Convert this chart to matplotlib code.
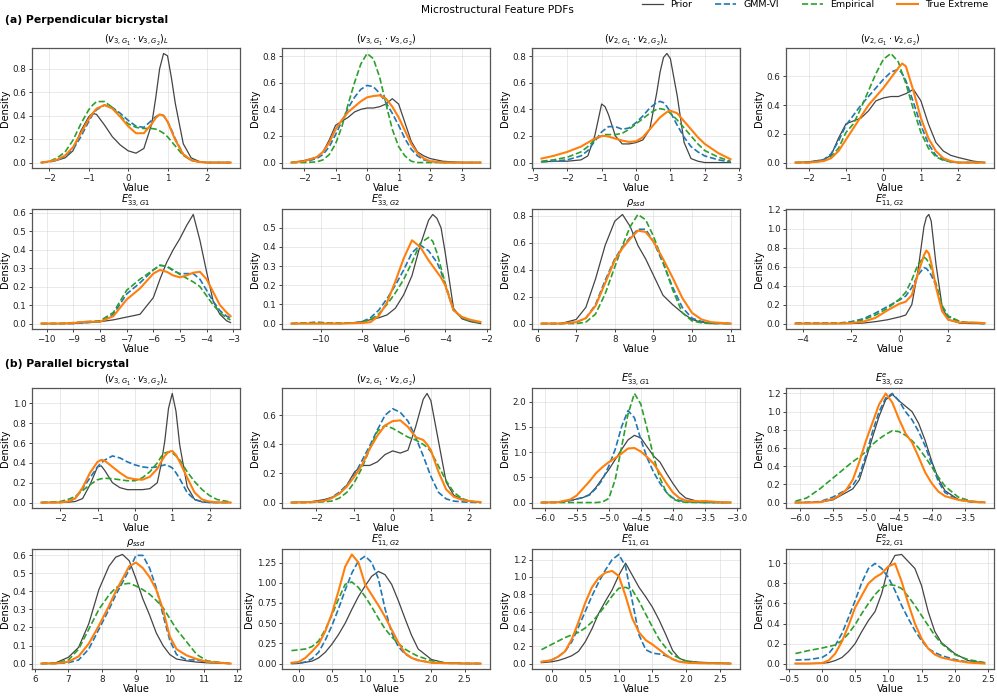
import matplotlib
matplotlib.use("Agg")
import matplotlib.pyplot as plt
from matplotlib.ticker import MultipleLocator
from matplotlib.lines import Line2D

# ---------------- (a) perpendicular bicrystal ----------------
# v3 (L)
pa_v3L_x = [-2.2, -2.0, -1.8, -1.6, -1.4, -1.2, -1.0, -0.9, -0.8, -0.6, -0.4, -0.2, 0.0, 0.2,
            0.4, 0.6, 0.7, 0.8, 0.9, 1.0, 1.1, 1.2, 1.4, 1.6, 1.8, 2.0, 2.2, 2.6]
pa_v3L_prior = [0.00, 0.01, 0.02, 0.04, 0.10, 0.27, 0.39, 0.42, 0.41, 0.32, 0.22, 0.15, 0.10, 0.08,
                0.12, 0.33, 0.55, 0.80, 0.93, 0.91, 0.72, 0.50, 0.16, 0.04, 0.01, 0.0, 0.0, 0.0]
pa_v3L_gmm = [0.0, 0.005, 0.02, 0.05, 0.11, 0.22, 0.35, 0.41, 0.45, 0.49, 0.47, 0.42, 0.36, 0.31,
              0.30, 0.36, 0.39, 0.41, 0.40, 0.35, 0.28, 0.20, 0.07, 0.02, 0.005, 0, 0, 0]
pa_v3L_emp = [0.0, 0.01, 0.04, 0.09, 0.19, 0.33, 0.45, 0.49, 0.52, 0.52, 0.47, 0.40, 0.33, 0.30,
              0.29, 0.29, 0.285, 0.27, 0.25, 0.22, 0.18, 0.14, 0.06, 0.02, 0.005, 0, 0, 0]
pa_v3L_true = [0.0, 0.01, 0.025, 0.06, 0.13, 0.25, 0.37, 0.42, 0.46, 0.49, 0.46, 0.39, 0.31, 0.25,
               0.25, 0.33, 0.38, 0.41, 0.40, 0.35, 0.27, 0.19, 0.07, 0.02, 0.005, 0, 0, 0]

# v3
pa_v3_x = [-2.4, -2.0, -1.6, -1.4, -1.2, -1.0, -0.8, -0.6, -0.4, -0.2, 0.0, 0.2, 0.4, 0.6, 0.8,
           1.0, 1.2, 1.4, 1.6, 1.8, 2.0, 2.4, 3.0, 3.6]
pa_v3_prior = [0.0, 0.015, 0.04, 0.08, 0.17, 0.28, 0.31, 0.34, 0.38, 0.40, 0.41, 0.41, 0.42, 0.44,
               0.48, 0.44, 0.30, 0.16, 0.08, 0.05, 0.03, 0.01, 0.0, 0.0]
pa_v3_gmm = [0, 0.005, 0.03, 0.06, 0.12, 0.21, 0.31, 0.41, 0.49, 0.55, 0.58, 0.57, 0.52, 0.45,
             0.37, 0.28, 0.18, 0.10, 0.05, 0.02, 0.01, 0, 0, 0]
pa_v3_emp = [0, 0, 0.005, 0.02, 0.06, 0.14, 0.27, 0.44, 0.60, 0.74, 0.82, 0.78, 0.64, 0.44,
             0.25, 0.12, 0.05, 0.01, 0, 0, 0, 0, 0, 0]
pa_v3_true = [0, 0.01, 0.04, 0.08, 0.15, 0.25, 0.32, 0.38, 0.42, 0.46, 0.49, 0.50, 0.505, 0.48,
              0.42, 0.34, 0.24, 0.14, 0.07, 0.03, 0.01, 0, 0, 0]

# v2 (L)
pa_v2L_x = [-2.75, -2.4, -2.0, -1.6, -1.4, -1.2, -1.0, -0.9, -0.8, -0.6, -0.4, -0.2, 0.0, 0.2,
            0.4, 0.6, 0.7, 0.8, 0.9, 1.0, 1.2, 1.4, 1.6, 1.8, 2.0, 2.4, 2.75]
pa_v2L_prior = [0.005, 0.01, 0.01, 0.02, 0.05, 0.20, 0.44, 0.42, 0.36, 0.20, 0.14, 0.14, 0.15, 0.17,
                0.25, 0.52, 0.68, 0.79, 0.82, 0.78, 0.50, 0.15, 0.03, 0.01, 0.0, 0, 0]
pa_v2L_gmm = [0.005, 0.01, 0.02, 0.05, 0.09, 0.16, 0.23, 0.25, 0.27, 0.27, 0.25, 0.26, 0.30, 0.35,
              0.41, 0.45, 0.46, 0.45, 0.42, 0.38, 0.28, 0.19, 0.12, 0.08, 0.05, 0.02, 0.005]
pa_v2L_emp = [0.01, 0.02, 0.04, 0.08, 0.12, 0.17, 0.20, 0.21, 0.21, 0.21, 0.22, 0.25, 0.29, 0.33,
              0.37, 0.40, 0.405, 0.40, 0.39, 0.37, 0.32, 0.26, 0.20, 0.14, 0.09, 0.04, 0.01]
pa_v2L_true = [0.03, 0.05, 0.08, 0.12, 0.15, 0.18, 0.20, 0.20, 0.195, 0.18, 0.165, 0.155, 0.16, 0.19,
               0.25, 0.31, 0.34, 0.36, 0.38, 0.39, 0.37, 0.31, 0.25, 0.19, 0.14, 0.07, 0.025]

# v2
pa_v2_x = [-2.35, -2.0, -1.6, -1.4, -1.2, -1.0, -0.8, -0.6, -0.4, -0.2, 0.0, 0.2, 0.4, 0.5, 0.6,
           0.8, 1.0, 1.2, 1.4, 1.6, 1.8, 2.0, 2.4, 2.7]
pa_v2_prior = [0.0, 0.005, 0.02, 0.05, 0.17, 0.27, 0.29, 0.31, 0.36, 0.43, 0.45, 0.46, 0.46, 0.47,
               0.48, 0.51, 0.43, 0.27, 0.14, 0.08, 0.05, 0.035, 0.01, 0.0]
pa_v2_gmm = [0, 0, 0.02, 0.06, 0.15, 0.26, 0.33, 0.40, 0.46, 0.52, 0.58, 0.63, 0.65, 0.62, 0.57,
             0.42, 0.26, 0.13, 0.05, 0.02, 0.005, 0, 0, 0]
pa_v2_emp = [0, 0, 0.01, 0.04, 0.10, 0.21, 0.27, 0.38, 0.50, 0.62, 0.72, 0.76, 0.70, 0.62, 0.55,
             0.37, 0.21, 0.10, 0.04, 0.015, 0.005, 0, 0, 0]
pa_v2_true = [0, 0, 0.01, 0.03, 0.08, 0.16, 0.24, 0.32, 0.40, 0.46, 0.52, 0.59, 0.66, 0.69, 0.67,
              0.50, 0.31, 0.17, 0.08, 0.03, 0.01, 0, 0, 0]

# E33 G1
pa_e33g1_x = [-10.2, -9.5, -9.0, -8.5, -8.0, -7.5, -7.0, -6.5, -6.0, -5.75, -5.5, -5.25, -5.0,
              -4.75, -4.5, -4.25, -4.0, -3.75, -3.5, -3.25, -3.1]
pa_e33g1_prior = [0, 0, 0.0, 0.005, 0.01, 0.02, 0.035, 0.05, 0.14, 0.24, 0.33, 0.40, 0.46,
                  0.53, 0.59, 0.45, 0.28, 0.12, 0.05, 0.015, 0.005]
pa_e33g1_gmm = [0, 0, 0, 0.005, 0.01, 0.05, 0.16, 0.22, 0.29, 0.315, 0.31, 0.285, 0.27,
                0.27, 0.27, 0.24, 0.18, 0.12, 0.07, 0.04, 0.03]
pa_e33g1_emp = [0, 0, 0.005, 0.01, 0.015, 0.06, 0.18, 0.24, 0.29, 0.315, 0.31, 0.29, 0.265,
                0.245, 0.225, 0.20, 0.15, 0.10, 0.06, 0.03, 0.02]
pa_e33g1_true = [0, 0, 0.003, 0.01, 0.01, 0.04, 0.13, 0.19, 0.27, 0.29, 0.28, 0.26, 0.25,
                 0.26, 0.275, 0.28, 0.24, 0.17, 0.10, 0.06, 0.04]

# E33 G2
pa_e33g2_x = [-11.4, -10.6, -10.2, -9.6, -9.0, -8.4, -8.0, -7.6, -7.2, -6.8, -6.4, -6.0, -5.6,
              -5.2, -4.8, -4.6, -4.4, -4.2, -4.0, -3.6, -3.2, -2.8, -2.3]
pa_e33g2_prior = [0, 0, 0, 0, 0, 0.003, 0.01, 0.02, 0.03, 0.045, 0.08, 0.15, 0.25,
                  0.41, 0.54, 0.57, 0.55, 0.50, 0.37, 0.08, 0.025, 0.01, 0.0]
pa_e33g2_gmm = [0, 0.004, 0.007, 0.003, 0.002, 0.004, 0.01, 0.03, 0.07, 0.13, 0.20, 0.28, 0.37,
                0.41, 0.38, 0.35, 0.32, 0.27, 0.20, 0.07, 0.03, 0.015, 0.005]
pa_e33g2_emp = [0, 0.003, 0.005, 0.002, 0.001, 0.003, 0.007, 0.02, 0.05, 0.10, 0.16, 0.23, 0.32,
                0.42, 0.45, 0.43, 0.37, 0.29, 0.21, 0.07, 0.03, 0.015, 0.005]
pa_e33g2_true = [0, 0, 0, 0, 0, 0.002, 0.003, 0.007, 0.04, 0.11, 0.22, 0.34, 0.435,
                 0.40, 0.33, 0.30, 0.27, 0.24, 0.20, 0.07, 0.035, 0.02, 0.008]

# rho_ssd
pa_rho_x = [6.1, 6.6, 7.0, 7.25, 7.5, 7.75, 8.0, 8.2, 8.4, 8.6, 8.8, 9.0, 9.25, 9.5, 9.75,
            10.0, 10.25, 10.5, 11.0]
pa_rho_prior = [0, 0.0, 0.03, 0.12, 0.33, 0.58, 0.76, 0.81, 0.72, 0.58, 0.48, 0.36, 0.21, 0.14,
                0.08, 0.03, 0.01, 0.0, 0]
pa_rho_gmm = [0, 0.0, 0.01, 0.04, 0.14, 0.32, 0.48, 0.57, 0.64, 0.70, 0.70, 0.61, 0.45, 0.27,
              0.12, 0.04, 0.015, 0.005, 0]
pa_rho_emp = [0, 0, 0.0, 0.01, 0.07, 0.22, 0.42, 0.58, 0.72, 0.81, 0.77, 0.65, 0.46, 0.25,
              0.08, 0.02, 0.005, 0, 0]
pa_rho_true = [0, 0.0, 0.01, 0.04, 0.13, 0.30, 0.47, 0.56, 0.63, 0.69, 0.68, 0.61, 0.48, 0.34,
               0.19, 0.08, 0.03, 0.01, 0]

# E11 G2
pa_e11g2_x = [-4.3, -3.5, -2.5, -2.0, -1.5, -1.0, -0.5, 0.0, 0.25, 0.5, 0.75, 1.0, 1.1, 1.2,
              1.3, 1.5, 1.75, 2.0, 2.5, 3.0, 3.5]
pa_e11g2_prior = [0, 0, 0, 0, 0.005, 0.02, 0.04, 0.07, 0.09, 0.20, 0.55, 1.02, 1.12, 1.15,
                  1.08, 0.62, 0.18, 0.04, 0.003, 0, 0]
pa_e11g2_gmm = [0.005, 0.005, 0.005, 0.02, 0.05, 0.11, 0.18, 0.25, 0.29, 0.38, 0.51, 0.59, 0.58,
                0.55, 0.51, 0.40, 0.17, 0.07, 0.015, 0.005, 0]
pa_e11g2_emp = [0, 0, 0.002, 0.01, 0.04, 0.09, 0.16, 0.26, 0.33, 0.46, 0.62, 0.70, 0.68, 0.64,
                0.58, 0.42, 0.19, 0.08, 0.02, 0.005, 0]
pa_e11g2_true = [0, 0, 0, 0.005, 0.02, 0.06, 0.14, 0.21, 0.23, 0.30, 0.52, 0.72, 0.77, 0.74,
                 0.64, 0.38, 0.13, 0.04, 0.01, 0.012, 0.005]

# ---------------- (b) parallel bicrystal ----------------
# v3 (L)
pb_v3L_x = [-2.5, -2.0, -1.8, -1.6, -1.4, -1.2, -1.0, -0.9, -0.8, -0.6, -0.4, -0.2, 0.0, 0.2,
            0.4, 0.6, 0.7, 0.8, 0.9, 1.0, 1.1, 1.2, 1.4, 1.6, 1.8, 2.0, 2.2, 2.56]
pb_v3L_prior = [0, 0, 0.003, 0.01, 0.04, 0.18, 0.36, 0.37, 0.32, 0.20, 0.15, 0.13, 0.13, 0.13,
                0.14, 0.20, 0.38, 0.62, 0.95, 1.10, 0.92, 0.58, 0.16, 0.03, 0.005, 0, 0, 0]
pb_v3L_gmm = [0, 0.002, 0.01, 0.04, 0.14, 0.25, 0.36, 0.40, 0.43, 0.47, 0.45, 0.41, 0.38, 0.36,
              0.35, 0.36, 0.37, 0.38, 0.37, 0.35, 0.30, 0.24, 0.10, 0.03, 0.01, 0, 0, 0]
pb_v3L_emp = [0.0, 0.01, 0.03, 0.06, 0.12, 0.18, 0.23, 0.24, 0.245, 0.24, 0.23, 0.22, 0.22, 0.25,
              0.31, 0.40, 0.46, 0.50, 0.51, 0.50, 0.47, 0.43, 0.31, 0.21, 0.13, 0.07, 0.03, 0.005]
pb_v3L_true = [0, 0.002, 0.01, 0.04, 0.15, 0.30, 0.41, 0.43, 0.42, 0.36, 0.30, 0.25, 0.235, 0.23,
               0.26, 0.34, 0.41, 0.47, 0.51, 0.52, 0.48, 0.41, 0.25, 0.10, 0.03, 0.01, 0.002, 0]

# v2
pb_v2_x = [-2.65, -2.2, -1.8, -1.6, -1.4, -1.2, -1.0, -0.8, -0.6, -0.4, -0.2, 0.0, 0.2, 0.4,
           0.6, 0.8, 0.9, 1.0, 1.2, 1.4, 1.6, 1.8, 2.0, 2.3]
pb_v2_prior = [0, 0.003, 0.02, 0.035, 0.06, 0.12, 0.21, 0.255, 0.255, 0.28, 0.33, 0.355, 0.34,
               0.36, 0.52, 0.71, 0.75, 0.70, 0.42, 0.14, 0.05, 0.025, 0.01, 0]
pb_v2_gmm = [0, 0.002, 0.01, 0.035, 0.07, 0.12, 0.19, 0.29, 0.39, 0.50, 0.60, 0.645, 0.62,
             0.56, 0.45, 0.32, 0.25, 0.18, 0.07, 0.025, 0.01, 0.005, 0.002, 0]
pb_v2_emp = [0, 0, 0.005, 0.01, 0.03, 0.07, 0.14, 0.24, 0.37, 0.49, 0.53, 0.51, 0.48,
             0.45, 0.43, 0.40, 0.38, 0.35, 0.25, 0.15, 0.07, 0.03, 0.01, 0]
pb_v2_true = [0, 0.002, 0.01, 0.03, 0.06, 0.11, 0.18, 0.26, 0.37, 0.46, 0.53, 0.56, 0.565,
              0.52, 0.45, 0.43, 0.40, 0.36, 0.21, 0.09, 0.04, 0.02, 0.01, 0.003]

# E33 G1
pb_e33g1_x = [-6.05, -5.8, -5.6, -5.5, -5.4, -5.3, -5.2, -5.1, -5.0, -4.9, -4.8, -4.7, -4.6,
              -4.5, -4.4, -4.3, -4.2, -4.1, -4.0, -3.9, -3.8, -3.6, -3.5, -3.3, -3.1]
pb_e33g1_prior = [0, 0.005, 0.04, 0.07, 0.10, 0.16, 0.30, 0.48, 0.65, 0.85, 1.05, 1.24, 1.33,
                  1.28, 1.10, 0.92, 0.80, 0.58, 0.38, 0.20, 0.09, 0.02, 0.01, 0.0, 0]
pb_e33g1_gmm = [0, 0.005, 0.04, 0.07, 0.10, 0.15, 0.28, 0.45, 0.72, 1.05, 1.50, 1.82, 1.68,
                1.25, 0.88, 0.60, 0.38, 0.20, 0.09, 0.04, 0.015, 0.005, 0, 0, 0]
pb_e33g1_emp = [0, 0, 0, 0, 0, 0, 0, 0.01, 0.08, 0.45, 1.10, 1.75, 2.16,
                1.95, 1.45, 0.90, 0.48, 0.20, 0.07, 0.02, 0.005, 0, 0, 0, 0]
pb_e33g1_true = [0, 0.005, 0.06, 0.14, 0.28, 0.42, 0.58, 0.70, 0.80, 0.88, 0.97, 1.07, 1.08,
                 1.01, 0.90, 0.77, 0.58, 0.38, 0.20, 0.09, 0.04, 0.025, 0.03, 0.01, 0.002]

# E33 G2
pb_e33g2_x = [-6.07, -5.9, -5.7, -5.5, -5.4, -5.3, -5.2, -5.1, -5.0, -4.9, -4.8, -4.7, -4.6,
              -4.5, -4.4, -4.3, -4.2, -4.1, -4.0, -3.9, -3.8, -3.6, -3.4, -3.2]
pb_e33g2_prior = [0, 0, 0.003, 0.03, 0.07, 0.11, 0.15, 0.25, 0.48, 0.72, 0.95, 1.13, 1.19,
                  1.12, 1.06, 1.0, 0.87, 0.68, 0.45, 0.26, 0.13, 0.035, 0.01, 0]
pb_e33g2_gmm = [0, 0.003, 0.01, 0.06, 0.10, 0.14, 0.19, 0.30, 0.52, 0.78, 1.00, 1.15, 1.20,
                1.12, 1.00, 0.91, 0.78, 0.62, 0.42, 0.23, 0.11, 0.03, 0.005, 0]
pb_e33g2_emp = [0.015, 0.05, 0.15, 0.27, 0.33, 0.39, 0.45, 0.50, 0.56, 0.64, 0.70, 0.75, 0.79,
                0.78, 0.74, 0.68, 0.60, 0.50, 0.39, 0.28, 0.18, 0.06, 0.015, 0.003]
pb_e33g2_true = [0, 0, 0.004, 0.04, 0.08, 0.14, 0.25, 0.45, 0.68, 0.88, 1.08, 1.20, 1.10,
                 0.92, 0.76, 0.66, 0.50, 0.33, 0.21, 0.12, 0.07, 0.03, 0.01, 0.002]

# rho_ssd
pb_rho_x = [6.2, 6.6, 7.0, 7.3, 7.6, 7.9, 8.2, 8.4, 8.6, 8.8, 9.0, 9.2, 9.4, 9.6, 9.8, 10.0,
            10.2, 10.5, 10.8, 11.1, 11.8]
pb_rho_prior = [0, 0.002, 0.035, 0.09, 0.22, 0.41, 0.54, 0.59, 0.605, 0.57, 0.47, 0.36, 0.27,
                0.17, 0.10, 0.05, 0.025, 0.015, 0.008, 0.004, 0]
pb_rho_gmm = [0, 0, 0.005, 0.02, 0.08, 0.19, 0.30, 0.38, 0.45, 0.52, 0.60, 0.60, 0.53, 0.42,
              0.27, 0.13, 0.05, 0.02, 0.02, 0.008, 0]
pb_rho_emp = [0, 0.003, 0.02, 0.08, 0.19, 0.30, 0.38, 0.42, 0.44, 0.445, 0.43, 0.41, 0.385,
              0.35, 0.31, 0.25, 0.19, 0.12, 0.05, 0.015, 0]
pb_rho_true = [0, 0.0, 0.01, 0.04, 0.11, 0.21, 0.32, 0.40, 0.47, 0.54, 0.56, 0.53, 0.48, 0.41,
               0.30, 0.15, 0.08, 0.045, 0.025, 0.01, 0]

# E11 G2
pb_e11g2_x = [-0.11, 0.0, 0.1, 0.2, 0.3, 0.4, 0.5, 0.6, 0.7, 0.8, 0.9, 1.0, 1.1, 1.2, 1.3, 1.4,
              1.5, 1.6, 1.7, 1.8, 2.0, 2.2, 2.5, 2.74]
pb_e11g2_prior = [0, 0.003, 0.015, 0.03, 0.07, 0.14, 0.24, 0.36, 0.50, 0.67, 0.83, 0.96, 1.08,
                  1.14, 1.10, 0.98, 0.78, 0.56, 0.35, 0.18, 0.05, 0.01, 0.0, 0]
pb_e11g2_gmm = [0, 0.003, 0.02, 0.06, 0.14, 0.29, 0.47, 0.68, 0.91, 1.12, 1.27, 1.33, 1.25,
                1.05, 0.68, 0.38, 0.21, 0.12, 0.07, 0.04, 0.012, 0.004, 0, 0]
pb_e11g2_emp = [0.16, 0.17, 0.18, 0.21, 0.28, 0.42, 0.60, 0.80, 0.98, 1.01, 0.94, 0.83, 0.70,
                0.56, 0.43, 0.33, 0.25, 0.18, 0.13, 0.09, 0.035, 0.01, 0.002, 0]
pb_e11g2_true = [0.01, 0.02, 0.07, 0.15, 0.24, 0.40, 0.62, 0.90, 1.20, 1.35, 1.25, 0.98, 0.85,
                 0.72, 0.58, 0.42, 0.26, 0.13, 0.07, 0.04, 0.01, 0.004, 0, 0]

# E11 G1
pb_e11g1_x = [-0.15, 0.0, 0.1, 0.2, 0.3, 0.4, 0.5, 0.6, 0.7, 0.8, 0.9, 1.0, 1.1, 1.2, 1.3, 1.4,
              1.5, 1.6, 1.7, 1.8, 1.9, 2.0, 2.2, 2.66]
pb_e11g1_prior = [0.01, 0.02, 0.035, 0.06, 0.09, 0.14, 0.25, 0.40, 0.58, 0.72, 0.85, 1.02, 1.16,
                  1.02, 0.88, 0.77, 0.65, 0.50, 0.33, 0.15, 0.06, 0.03, 0.015, 0]
pb_e11g1_gmm = [0.02, 0.04, 0.08, 0.14, 0.25, 0.42, 0.60, 0.78, 0.94, 1.08, 1.20, 1.26, 1.12,
                0.72, 0.33, 0.16, 0.12, 0.11, 0.09, 0.05, 0.025, 0.012, 0.004, 0]
pb_e11g1_emp = [0.16, 0.22, 0.26, 0.30, 0.33, 0.36, 0.41, 0.48, 0.57, 0.67, 0.78, 0.87, 0.88,
                0.85, 0.72, 0.57, 0.42, 0.28, 0.18, 0.10, 0.06, 0.03, 0.01, 0]
pb_e11g1_true = [0.02, 0.04, 0.08, 0.14, 0.28, 0.48, 0.70, 0.88, 0.99, 1.05, 1.07, 1.01, 0.78,
                 0.52, 0.36, 0.27, 0.22, 0.16, 0.10, 0.05, 0.02, 0.01, 0.004, 0]

# E22 G1
pb_e22g1_x = [-0.4, -0.2, 0.0, 0.1, 0.2, 0.3, 0.4, 0.5, 0.6, 0.7, 0.8, 0.9, 1.0, 1.1, 1.2, 1.3,
              1.4, 1.5, 1.6, 1.7, 1.8, 2.0, 2.2, 2.45]
pb_e22g1_prior = [0, 0, 0.003, 0.01, 0.03, 0.06, 0.12, 0.20, 0.32, 0.43, 0.52, 0.70, 0.96, 1.08,
                  1.09, 1.02, 0.95, 0.78, 0.52, 0.32, 0.21, 0.10, 0.03, 0.005]
pb_e22g1_gmm = [0.035, 0.04, 0.06, 0.10, 0.18, 0.30, 0.46, 0.63, 0.81, 0.95, 1.0, 0.95, 0.86,
                0.73, 0.58, 0.45, 0.33, 0.23, 0.15, 0.11, 0.08, 0.04, 0.015, 0.005]
pb_e22g1_emp = [0.10, 0.13, 0.155, 0.17, 0.185, 0.23, 0.30, 0.39, 0.50, 0.60, 0.69, 0.76, 0.79,
                0.78, 0.75, 0.67, 0.58, 0.48, 0.38, 0.28, 0.20, 0.09, 0.04, 0.01]
pb_e22g1_true = [0, 0, 0.005, 0.03, 0.10, 0.22, 0.38, 0.56, 0.68, 0.80, 0.86, 0.90, 0.97, 1.0,
                 0.82, 0.60, 0.40, 0.25, 0.15, 0.09, 0.06, 0.03, 0.01, 0]

series_names = ["Prior", "GMM-VI", "Empirical", "True Extreme"]

# (title, x, prior, gmm, emp, true, x tick step, y tick step)
panels = [
    (r"$(v_{3,G_1} \cdot v_{3,G_2})_L$", pa_v3L_x, pa_v3L_prior, pa_v3L_gmm, pa_v3L_emp, pa_v3L_true, 1, 0.2),
    (r"$(v_{3,G_1} \cdot v_{3,G_2})$", pa_v3_x, pa_v3_prior, pa_v3_gmm, pa_v3_emp, pa_v3_true, 1, 0.2),
    (r"$(v_{2,G_1} \cdot v_{2,G_2})_L$", pa_v2L_x, pa_v2L_prior, pa_v2L_gmm, pa_v2L_emp, pa_v2L_true, 1, 0.2),
    (r"$(v_{2,G_1} \cdot v_{2,G_2})$", pa_v2_x, pa_v2_prior, pa_v2_gmm, pa_v2_emp, pa_v2_true, 1, 0.2),
    (r"$E^e_{33,G1}$", pa_e33g1_x, pa_e33g1_prior, pa_e33g1_gmm, pa_e33g1_emp, pa_e33g1_true, 1, 0.1),
    (r"$E^e_{33,G2}$", pa_e33g2_x, pa_e33g2_prior, pa_e33g2_gmm, pa_e33g2_emp, pa_e33g2_true, 2, 0.1),
    (r"$\rho_{ssd}$", pa_rho_x, pa_rho_prior, pa_rho_gmm, pa_rho_emp, pa_rho_true, 1, 0.2),
    (r"$E^e_{11,G2}$", pa_e11g2_x, pa_e11g2_prior, pa_e11g2_gmm, pa_e11g2_emp, pa_e11g2_true, 2, 0.2),
    (r"$(v_{3,G_1} \cdot v_{3,G_2})_L$", pb_v3L_x, pb_v3L_prior, pb_v3L_gmm, pb_v3L_emp, pb_v3L_true, 1, 0.2),
    (r"$(v_{2,G_1} \cdot v_{2,G_2})$", pb_v2_x, pb_v2_prior, pb_v2_gmm, pb_v2_emp, pb_v2_true, 1, 0.2),
    (r"$E^e_{33,G1}$", pb_e33g1_x, pb_e33g1_prior, pb_e33g1_gmm, pb_e33g1_emp, pb_e33g1_true, 0.5, 0.5),
    (r"$E^e_{33,G2}$", pb_e33g2_x, pb_e33g2_prior, pb_e33g2_gmm, pb_e33g2_emp, pb_e33g2_true, 0.5, 0.2),
    (r"$\rho_{ssd}$", pb_rho_x, pb_rho_prior, pb_rho_gmm, pb_rho_emp, pb_rho_true, 1, 0.1),
    (r"$E^e_{11,G2}$", pb_e11g2_x, pb_e11g2_prior, pb_e11g2_gmm, pb_e11g2_emp, pb_e11g2_true, 0.5, 0.25),
    (r"$E^e_{11,G1}$", pb_e11g1_x, pb_e11g1_prior, pb_e11g1_gmm, pb_e11g1_emp, pb_e11g1_true, 0.5, 0.2),
    (r"$E^e_{22,G1}$", pb_e22g1_x, pb_e22g1_prior, pb_e22g1_gmm, pb_e22g1_emp, pb_e22g1_true, 0.5, 0.2),
]

# line styles for Prior, GMM-VI, Empirical, True Extreme
styles = [
    dict(color="#444444", lw=0.9, ls="-"),
    dict(color="#1f77b4", lw=1.2, ls="--"),
    dict(color="#2ca02c", lw=1.2, ls="--"),
    dict(color="#ff7f0e", lw=1.5, ls="-"),
]

W, H = 997, 698
fig = plt.figure(figsize=(W / 100, H / 100), dpi=100)

col_left = [32, 282, 532, 786]
row_top = [48, 209, 388, 549]
ax_w, ax_h = 208, 120

for i, (title, x, *curves, xstep, ystep) in enumerate(panels):
    r, c = divmod(i, 4)
    ax = fig.add_axes([col_left[c] / W, 1 - (row_top[r] + ax_h) / H, ax_w / W, ax_h / H])
    for y, st in zip(curves, styles):
        ax.plot(x, y, **st)
    ax.set_title(title, fontsize=7, pad=1.5)
    ax.set_xlabel("Value", fontsize=7, labelpad=0.5)
    ax.set_ylabel("Density", fontsize=7, labelpad=2)
    ax.xaxis.set_major_locator(MultipleLocator(xstep))
    ax.yaxis.set_major_locator(MultipleLocator(ystep))
    ax.tick_params(labelsize=6.3, length=2.5, width=0.6, pad=1.5, colors="#222222")
    ax.grid(True, color="#cccccc", lw=0.5, alpha=0.6)
    for s in ax.spines.values():
        s.set_color("#555555")
        s.set_linewidth(0.9)

fig.text(0.499, 1 - 10 / H, "Microstructural Feature PDFs", ha="center", va="center", fontsize=7.6)
fig.text(0.005, 1 - 20 / H, "(a) Perpendicular bicrystal", ha="left", va="center",
         fontsize=7.8, fontweight="bold")
fig.text(0.005, 1 - 364 / H, "(b) Parallel bicrystal", ha="left", va="center",
         fontsize=7.8, fontweight="bold")

handles = [Line2D([], [], **st) for st in styles]
fig.legend(handles, series_names, loc="upper right", bbox_to_anchor=(1.0, 1.012), ncol=4,
           frameon=False, fontsize=6.8, handlelength=2.2, columnspacing=2.4)

fig.savefig("out.png", dpi=100)
